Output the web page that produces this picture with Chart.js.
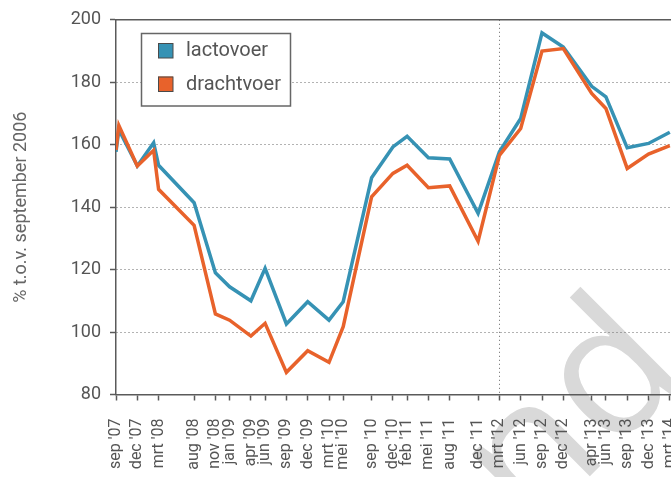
<!DOCTYPE html>
<html>
<head>
<meta charset="utf-8">
<script src="https://cdn.jsdelivr.net/npm/chart.js@4.4.1/dist/chart.umd.min.js"></script>
<style>
    html, body { margin: 0; padding: 0; background: #fff; overflow: hidden; }
    #wrap { width: 671px; height: 477px; overflow: hidden; position: relative; }
    canvas { display: block; }
</style>
</head>
<body>
<div id="wrap"><canvas id="feedChart" width="700" height="477"></canvas></div>
<script>
// months since sep '07 for every point on the lines
const monthIndex = [0, 0.4, 3, 5.3, 6, 11, 14, 16, 19, 21, 24, 27, 30, 32, 36, 39, 41, 44, 47, 51, 54, 57, 60, 63, 67, 69, 72, 75, 78];
const lactovoer = [157.7, 164.8, 153.2, 160.6, 153.4, 141.4, 119, 114.5, 110, 120.4, 102.6, 109.7, 103.8, 109.7, 149.4, 159.3, 162.7, 155.8, 155.4, 138, 157.7, 168.4, 195.8, 191.3, 178.7, 175.3, 159, 160.4, 164];
const drachtvoer = [158.3, 166.2, 153.2, 158.2, 145.7, 134.2, 105.8, 103.8, 98.7, 102.8, 87.1, 94, 90.3, 101.7, 143.3, 150.8, 153.4, 146.2, 146.8, 129.1, 156.6, 165.2, 190, 190.8, 176.4, 171.6, 152.4, 157, 159.7];

// labelled ticks on the x axis
const tickMonths = [0, 3, 6, 11, 14, 16, 19, 21, 24, 27, 30, 32, 36, 39, 41, 44, 47, 51, 54, 57, 60, 63, 67, 69, 72, 75, 78];
const tickLabels = ["sep '07", "dec '07", "mrt '08", "aug '08", "nov '08", "jan '09", "apr '09", "jun '09", "sep '09", "dec '09", "mrt '10", "mei '10", "sep '10", "dec '10", "feb '11", "mei '11", "aug '11", "dec '11", "mrt '12", "jun '12", "sep '12", "dec '12", "apr '13", "jun '13", "sep '13", "dec '13", "mrt '14"];
const markerMonth = 54; // dotted vertical line at mrt '12

const yTicks = [80, 100, 120, 140, 160, 180, 200];

const BLUE = '#3692b4';
const ORANGE = '#e8622b';
const AXIS = '#5a5a5a';
const TEXT = '#555555';

function toPoints(values) {
    return values.map((v, i) => ({ x: monthIndex[i], y: v }));
}

// light grey watermark behind everything
const watermark = {
    id: 'watermark',
    beforeDraw(chart) {
        const ctx = chart.ctx;
        ctx.save();
        ctx.translate(691, 375);
        ctx.rotate(-Math.PI / 4);
        ctx.font = '185px "Open Sans"';
        ctx.fillStyle = '#d9d9d9';
        ctx.textAlign = 'right';
        ctx.textBaseline = 'alphabetic';
        ctx.fillText('and', 0, 0);
        ctx.restore();
    }
};

// solid top frame + boxed legend inside the plot
const frameAndLegend = {
    id: 'frameAndLegend',
    afterDraw(chart) {
        const ctx = chart.ctx;
        const area = chart.chartArea;
        ctx.save();
        ctx.strokeStyle = AXIS;
        ctx.lineWidth = 1.5;
        ctx.beginPath();
        ctx.moveTo(area.left, area.top);
        ctx.lineTo(area.right, area.top);
        ctx.stroke();

        // legend box
        ctx.fillStyle = '#fff';
        ctx.fillRect(141.5, 33.5, 149, 72.5);
        ctx.strokeStyle = '#666';
        ctx.lineWidth = 1.5;
        ctx.strokeRect(141.5, 33.5, 149, 72.5);

        const items = [chart.data.datasets[0], chart.data.datasets[1]];
        items.forEach((ds, i) => {
            const y = 43 + i * 33.5;
            ctx.fillStyle = ds.borderColor;
            ctx.fillRect(158, y, 15, 15);
            ctx.strokeStyle = '#4a4a4a';
            ctx.lineWidth = 1;
            ctx.strokeRect(158.5, y + 0.5, 14.5, 14.5);
            ctx.fillStyle = TEXT;
            ctx.font = '20px Roboto';
            ctx.textBaseline = 'middle';
            ctx.textAlign = 'left';
            ctx.fillText(ds.label, 186, y + 8);
        });
        ctx.restore();
    }
};

new Chart(document.getElementById('feedChart'), {
    type: 'line',
    data: {
        datasets: [
            {
                label: 'lactovoer',
                data: toPoints(lactovoer),
                borderColor: BLUE,
                backgroundColor: BLUE,
                borderWidth: 3.5,
                pointRadius: 0,
                tension: 0,
                order: 2
            },
            {
                label: 'drachtvoer',
                data: toPoints(drachtvoer),
                borderColor: ORANGE,
                backgroundColor: ORANGE,
                borderWidth: 3.5,
                pointRadius: 0,
                tension: 0,
                order: 1
            }
        ]
    },
    options: {
        responsive: false,
        animation: false,
        layout: { padding: { top: 19, right: 16, left: 0, bottom: 0 } },
        plugins: {
            legend: { display: false },
            tooltip: { enabled: false }
        },
        scales: {
            x: {
                type: 'linear',
                min: 0,
                max: 80,
                afterBuildTicks: scale => {
                    scale.ticks = tickMonths.map(v => ({ value: v }));
                },
                afterFit: scale => {
                    scale.height = 82.5;
                    scale.paddingLeft = 0;
                    scale.paddingRight = 0;
                },
                grid: {
                    color: c => (c.tick && c.tick.value === markerMonth ? '#666' : 'rgba(0,0,0,0)'),
                    lineWidth: 1,
                    tickColor: AXIS,
                    tickBorderDash: [],
                    tickLength: 6,
                    tickWidth: 1.5
                },
                border: { color: AXIS, width: 1.5, dash: [1, 3] },
                ticks: {
                    autoSkip: false,
                    minRotation: 90,
                    maxRotation: 90,
                    padding: 18,
                    color: TEXT,
                    font: { family: 'Roboto', size: 16 },
                    callback: value => tickLabels[tickMonths.indexOf(value)] || ''
                }
            },
            y: {
                min: 80,
                max: 200,
                afterBuildTicks: scale => {
                    scale.ticks = yTicks.map(v => ({ value: v }));
                },
                afterFit: scale => { scale.width = 116; },
                grid: {
                    color: c => (c.tick && (c.tick.value === 80 || c.tick.value === 200) ? 'rgba(0,0,0,0)' : '#666'),
                    lineWidth: 1,
                    tickColor: AXIS,
                    tickBorderDash: [],
                    tickLength: 6,
                    tickWidth: 1.5
                },
                border: { color: AXIS, width: 1.5, dash: [1, 3] },
                ticks: {
                    padding: 9,
                    color: TEXT,
                    font: { family: 'Roboto', size: 18 }
                },
                title: {
                    display: true,
                    text: '% t.o.v. september 2006',
                    color: '#666',
                    font: { family: 'Roboto', size: 18 },
                    padding: { top: 11, bottom: 0 }
                }
            }
        }
    },
    plugins: [watermark, frameAndLegend]
});
</script>
</body>
</html>
